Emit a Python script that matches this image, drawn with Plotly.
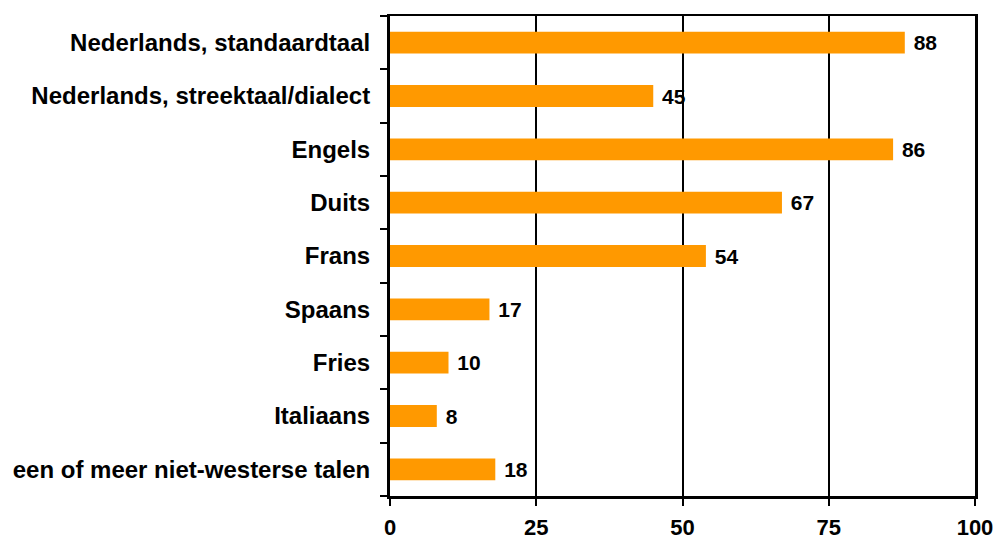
import plotly.graph_objects as go

categories = [
    "Nederlands, standaardtaal",
    "Nederlands, streektaal/dialect",
    "Engels",
    "Duits",
    "Frans",
    "Spaans",
    "Fries",
    "Italiaans",
    "een of meer niet-westerse talen",
]
values = [88, 45, 86, 67, 54, 17, 10, 8, 18]
x_ticks = [0, 25, 50, 75, 100]

FONT = "Liberation Sans, Arial, sans-serif"

fig = go.Figure(
    go.Bar(
        x=values,
        y=categories,
        orientation="h",
        marker=dict(color="#FF9900", line=dict(width=0)),
        text=values,
        texttemplate=" %{x}",
        textposition="outside",
        textfont=dict(family=FONT, size=21, color="black", weight="bold"),
        cliponaxis=False,
        hoverinfo="skip",
    )
)

fig.update_layout(
    width=997,
    height=541,
    margin=dict(l=390, r=22, t=16, b=45),
    paper_bgcolor="white",
    plot_bgcolor="white",
    showlegend=False,
    bargap=0.59,
    font=dict(family=FONT, color="black"),
    uniformtext=dict(minsize=21, mode="show"),
)

fig.update_xaxes(
    range=[0, 100],
    tickvals=x_ticks,
    ticktext=[str(v) for v in x_ticks],
    showgrid=True,
    gridcolor="black",
    gridwidth=2,
    showline=True,
    linecolor="black",
    linewidth=2.5,
    mirror=True,
    ticks="outside",
    ticklen=7,
    tickwidth=2,
    tickcolor="black",
    ticklabelstandoff=3,
    tickfont=dict(family=FONT, size=22, color="black", weight="bold"),
    zeroline=False,
    automargin=False,
)

fig.update_yaxes(
    categoryorder="array",
    categoryarray=categories[::-1],
    tickson="boundaries",
    showline=True,
    linecolor="black",
    linewidth=3,
    mirror=True,
    ticks="outside",
    ticklen=7,
    tickwidth=2,
    tickcolor="black",
    ticklabelstandoff=12,
    showgrid=False,
    automargin=False,
    tickfont=dict(family=FONT, size=24, color="black", weight="bold"),
)

fig.write_html(
    "out.html",
    config={"displayModeBar": False, "staticPlot": True},
    post_script="document.body.style.margin='0';document.body.style.overflow='hidden';",
)
